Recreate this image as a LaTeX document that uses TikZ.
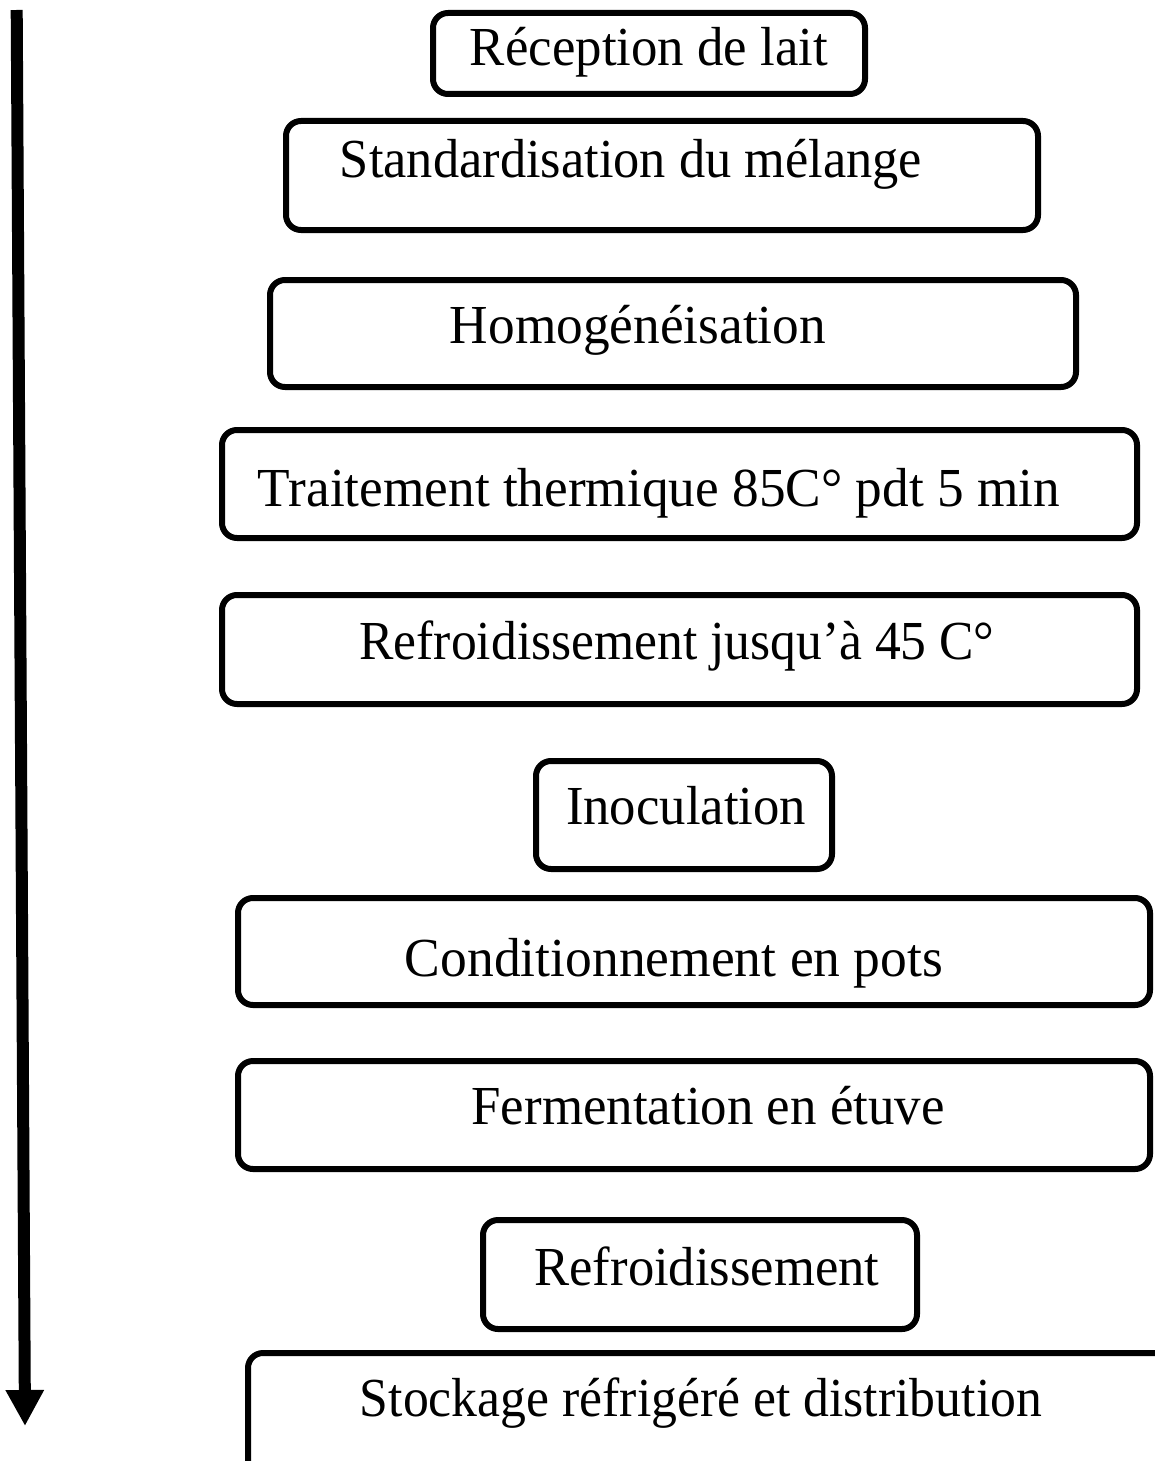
\documentclass[tikz,border=0pt]{standalone}
\usepackage{fontspec}
\setmainfont{Liberation Serif}
\usetikzlibrary{arrows.meta}
\newcommand{\fitw}[2]{\resizebox{#1}{1.1\height}{#2}}
\tikzset{
  stepbox/.style={draw=black, line width=6pt, rounded corners=15pt, fill=white, inner sep=0pt},
  steptext/.style={anchor=base, inner sep=0pt, font=\fontsize{50}{56}\selectfont},
  flowarrow/.style={line width=12pt, -{Triangle[width=36pt,length=36pt]}}
}
\begin{document}
\begin{tikzpicture}[x=1pt,y=-1pt]
\useasboundingbox (0,0) rectangle (1155,1461);
\clip (0,0) rectangle (1155,1461);
\fill[white] (0,0) rectangle (1155,1461);
% boxes
\newcommand{\mkbox}[5]{\node[stepbox, minimum width={#4-#2}, minimum height={#5-#3}] (#1) at ({(#2+#4)/2},{(#3+#5)/2}) {};}
\mkbox{b1}{433}{13}{865}{94}
\mkbox{b2}{286}{121}{1038}{230}
\mkbox{b3}{270}{280}{1076}{387}
\mkbox{b4}{222}{430}{1137}{538}
\mkbox{b5}{222}{595}{1137}{704}
\mkbox{b6}{536}{761}{832}{869}
\mkbox{b7}{238}{898}{1150}{1005}
\mkbox{b8}{238}{1061}{1150}{1169}
\mkbox{b9}{483}{1220}{917}{1329}
\mkbox{b10}{248}{1353}{1180}{1480}
% texts
\node[steptext] (t1) at (649,66) {\fitw{358pt}{Réception de lait}};
\node[steptext] (t2) at (631,178) {\fitw{582pt}{Standardisation du mélange}};
\node[steptext] (t3) at (638,343) {\fitw{376pt}{Homogénéisation}};
\node[steptext] (t4) at (659,506) {\fitw{802pt}{Traitement thermique 85C° pdt 5 min}};
\node[steptext] (t5) at (677,659) {\fitw{635pt}{Refroidissement jusqu’à 45 C°}};
\node[steptext] (t6) at (686,824) {\fitw{240pt}{Inoculation}};
\node[steptext] (t7) at (674,976) {\fitw{538pt}{Conditionnement en pots}};
\node[steptext] (t8) at (708,1124) {\fitw{473pt}{Fermentation en étuve}};
\node[steptext] (t9) at (707,1285) {\fitw{345pt}{Refroidissement}};
\node[steptext] (t10) at (701,1416) {\fitw{682pt}{Stockage réfrigéré et distribution}};
% arrow
\coordinate (atop) at (16.7,10);
\coordinate (abot) at (25,1426);
\draw[flowarrow] (atop) -- (abot);
\end{tikzpicture}
\end{document}
